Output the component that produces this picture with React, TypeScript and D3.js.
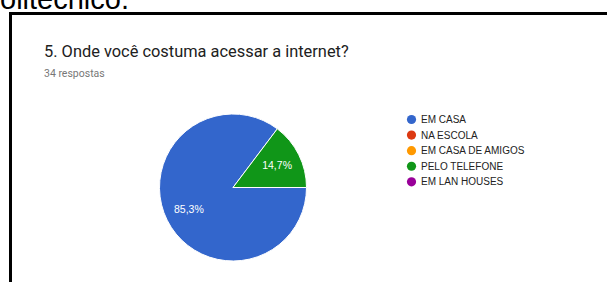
import React from "react";
import * as d3 from "d3";

const categories = ["EM CASA", "NA ESCOLA", "EM CASA DE AMIGOS", "PELO TELEFONE", "EM LAN HOUSES"];
const values = [29, 0, 0, 5, 0];
const colors = ["#3366cc", "#dc3912", "#ff9900", "#109618", "#990099"];
const title = "5. Onde você costuma acessar a internet?";
const subtitle = "34 respostas";
const topText = "Politécnico.";

export default function App() {
  const W = 607, H = 282;
  const cx = 233, cy = 187.5, r = 73.5;
  const total = d3.sum(values);
  const pie = d3.pie<number>().sort(null).value((d) => d).startAngle(Math.PI / 2).endAngle(Math.PI / 2 + 2 * Math.PI);
  const arcs = pie(values);
  const arc = d3.arc<d3.PieArcDatum<number>>().innerRadius(0).outerRadius(r);
  const labelArc = d3.arc<d3.PieArcDatum<number>>().innerRadius(r * 0.67).outerRadius(r * 0.67);
  const fmt = (v: number) => (v / total * 100).toFixed(1).replace(".", ",") + "%";
  const legendY = d3.scalePoint<number>().domain(d3.range(categories.length)).range([119.5, 181.8]);

  return (
    <svg width={W} height={H} style={{ position: "absolute", left: 0, top: 0 }}>
      <rect width={W} height={H} fill="#fff" />
      <text x={129} y={9} textAnchor="end" fontFamily="Liberation Sans, Arial" fontSize={29} fill="#000">{topText}</text>
      <path d={`M10.5,${H} V13.5 H${W}`} fill="none" stroke="#000" strokeWidth={3} />
      <text x={44} y={56.5} fontFamily="Roboto" fontSize={16.4} fill="#212121">{title}</text>
      <text x={44} y={77} fontFamily="Roboto" fontSize={10.5} fill="#777">{subtitle}</text>
      <g transform={`translate(${cx},${cy})`}>
        {arcs.map((a, i) => a.value > 0 ? (
          <path key={i} d={arc(a) || ""} fill={colors[i]} stroke="#fff" strokeWidth={1} />
        ) : null)}
        {arcs.map((a, i) => a.value > 0 ? (
          <text key={"l" + i} transform={`translate(${labelArc.centroid(a)})`} textAnchor="middle" dy="0.35em"
            fontFamily="Liberation Sans, Arial" fontSize={10.5} fill="#fff">{fmt(a.value)}</text>
        ) : null)}
      </g>
      {categories.map((c, i) => (
        <g key={c} transform={`translate(411.5,${legendY(i)})`}>
          <circle r={4.6} fill={colors[i]} />
          <text x={9.5} dy="0.35em" fontFamily="Liberation Sans, Arial" fontSize={10} fill="#222">{c}</text>
        </g>
      ))}
    </svg>
  );
}
